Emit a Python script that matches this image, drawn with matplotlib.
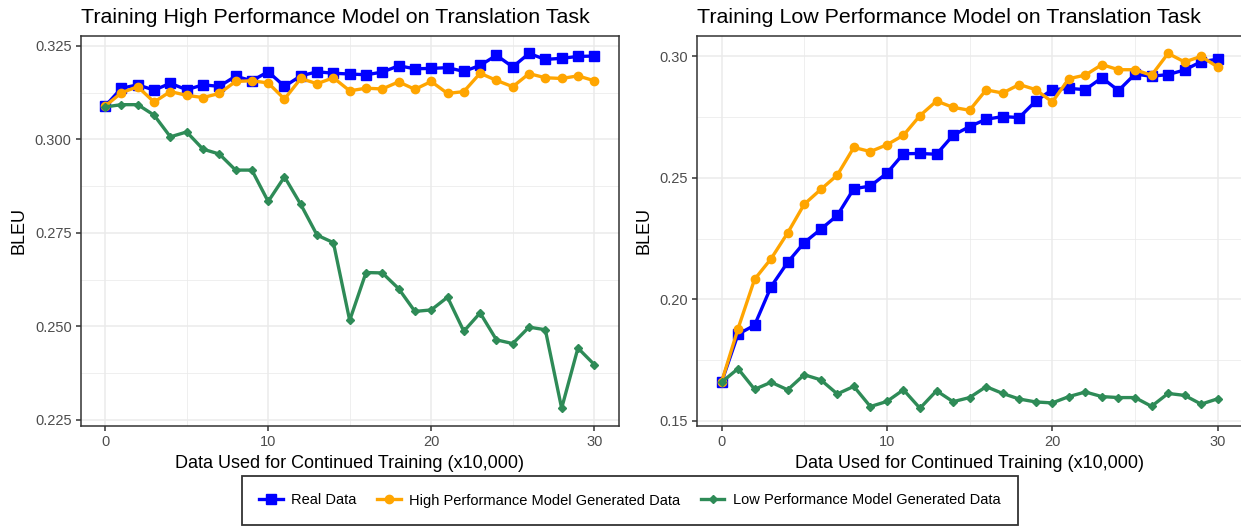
import numpy as np
from matplotlib import pyplot as plt
from matplotlib.lines import Line2D
from matplotlib.ticker import MultipleLocator

plt.rcParams['font.family'] = ['Liberation Sans', 'DejaVu Sans']

x = np.arange(31)  # data used (x10,000)

# left panel: high performance model
high_real = [0.3089, 0.3137, 0.3146, 0.3132, 0.3150, 0.3133, 0.3146, 0.3142, 0.3169, 0.3157,
             0.3181, 0.3142, 0.3170, 0.3181, 0.3177, 0.3175, 0.3173, 0.3180, 0.3197, 0.3189,
             0.3190, 0.3192, 0.3182, 0.3198, 0.3225, 0.3194, 0.3230, 0.3214, 0.3217, 0.3222, 0.3223]
high_hi = [0.3089, 0.3125, 0.3141, 0.3100, 0.3128, 0.3118, 0.3112, 0.3123, 0.3155, 0.3157,
           0.3151, 0.3108, 0.3163, 0.3149, 0.3165, 0.3130, 0.3137, 0.3135, 0.3154, 0.3134,
           0.3155, 0.3123, 0.3128, 0.3177, 0.3158, 0.3141, 0.3176, 0.3165, 0.3163, 0.3170, 0.3157]
high_lo = [0.3087, 0.3093, 0.3093, 0.3065, 0.3007, 0.3020, 0.2974, 0.2961, 0.2918, 0.2918,
           0.2834, 0.2900, 0.2826, 0.2744, 0.2724, 0.2516, 0.2644, 0.2643, 0.2601, 0.2540,
           0.2544, 0.2578, 0.2487, 0.2536, 0.2464, 0.2454, 0.2498, 0.2491, 0.2281, 0.2442, 0.2398]

# right panel: low performance model
low_real = [0.1658, 0.1856, 0.1893, 0.2052, 0.2152, 0.2233, 0.2288, 0.2345, 0.2455, 0.2466,
            0.2519, 0.2599, 0.2600, 0.2597, 0.2675, 0.2711, 0.2741, 0.2752, 0.2748, 0.2816,
            0.2863, 0.2868, 0.2863, 0.2912, 0.2859, 0.2927, 0.2918, 0.2925, 0.2944, 0.2978, 0.2988]
low_hi = [0.1658, 0.1879, 0.2082, 0.2167, 0.2273, 0.2391, 0.2452, 0.2511, 0.2625, 0.2608,
          0.2636, 0.2675, 0.2756, 0.2816, 0.2790, 0.2778, 0.2862, 0.2849, 0.2884, 0.2863,
          0.2812, 0.2908, 0.2923, 0.2966, 0.2945, 0.2945, 0.2922, 0.3012, 0.2977, 0.3000, 0.2956]
low_lo = [0.1658, 0.1714, 0.1629, 0.1658, 0.1627, 0.1689, 0.1668, 0.1610, 0.1641, 0.1558,
          0.1579, 0.1627, 0.1551, 0.1623, 0.1578, 0.1595, 0.1640, 0.1612, 0.1589, 0.1577,
          0.1573, 0.1599, 0.1618, 0.1599, 0.1595, 0.1595, 0.1559, 0.1612, 0.1604, 0.1568, 0.1590]

labels = ['Real Data', 'High Performance Model Generated Data', 'Low Performance Model Generated Data']
colors = ['#0000FF', '#FFA500', '#2E8B57']
markers = ['s', 'o', 'D']
msizes = [7, 6, 4]

W, H = 1241, 527
fig = plt.figure(figsize=(W / 100, H / 100), dpi=100)

def box(l, r, t, b):
    return [l / W, 1 - b / H, (r - l) / W, (b - t) / H]

axL = fig.add_axes(box(80.7, 618.7, 35.7, 426))
axR = fig.add_axes(box(696.7, 1242.5, 35.7, 426))

def draw(ax, series, title, ymaj):
    for ys, c, m, ms in zip(series, colors, markers, msizes):
        ax.plot(x, ys, color=c, lw=2.4, marker=m, ms=ms, zorder=3)
    allv = np.concatenate(series)
    lo, hi = allv.min(), allv.max()
    pad = (hi - lo) * 0.05
    ax.set_ylim(lo - pad, hi + pad)
    ax.set_xlim(-1.5, 31.5)
    ax.xaxis.set_major_locator(MultipleLocator(10))
    ax.xaxis.set_minor_locator(MultipleLocator(5))
    ax.yaxis.set_major_locator(MultipleLocator(ymaj))
    ax.yaxis.set_minor_locator(MultipleLocator(ymaj / 2))
    ax.grid(which='major', color='#EBEBEB', lw=1.1, zorder=0)
    ax.grid(which='minor', color='#EBEBEB', lw=0.55, zorder=0)
    ax.set_axisbelow(True)
    for s in ax.spines.values():
        s.set_color('#333333')
        s.set_linewidth(1.1)
    ax.tick_params(which='major', length=3.5, width=1.1, color='#333333',
                   labelsize=10.5, labelcolor='#4D4D4D', pad=3)
    ax.tick_params(which='minor', length=0)
    ax.set_title(title, loc='left', fontsize=15.4, pad=9)
    ax.set_xlabel('Data Used for Continued Training (x10,000)', fontsize=13, labelpad=4)
    ax.set_ylabel('BLEU', fontsize=13, labelpad=5)

draw(axL, [high_real, high_hi, high_lo], 'Training High Performance Model on Translation Task', 0.025)
axL.yaxis.set_major_formatter(plt.FormatStrFormatter('%.3f'))
draw(axR, [low_real, low_hi, low_lo], 'Training Low Performance Model on Translation Task', 0.05)
axR.yaxis.set_major_formatter(plt.FormatStrFormatter('%.2f'))

handles = [Line2D([], [], color=c, lw=2.4, marker=m, ms=ms) for c, m, ms in zip(colors, markers, msizes)]
leg = fig.legend(handles, labels, loc='lower center', bbox_to_anchor=(630 / W, 2 / H), ncol=3,
                 fontsize=10.5, frameon=True, fancybox=False, edgecolor='black',
                 handlelength=1.6, columnspacing=1.4, handletextpad=0.6,
                 borderpad=1.2, borderaxespad=0)
leg.get_frame().set_linewidth(1.3)

fig.savefig('out.png', dpi=100)
